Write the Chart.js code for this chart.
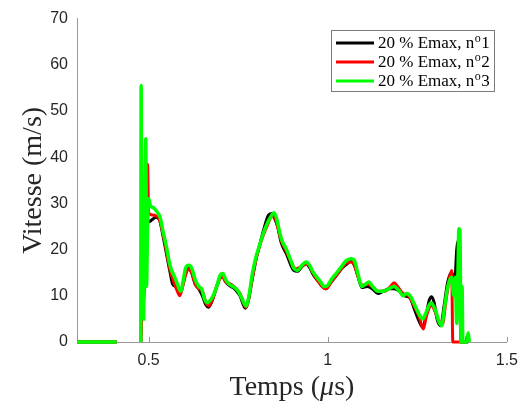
<!DOCTYPE html>
<html>
<head>
<meta charset="utf-8">
<script src="https://cdn.jsdelivr.net/npm/chart.js@4/dist/chart.umd.min.js"></script>
<style>
  body { margin: 0; background: #fff; }
  canvas { display: block; }
</style>
</head>
<body>
<canvas id="VitesseChart" width="527" height="406"></canvas>
<script>
// velocity traces, three shots at 20 % Emax (time in µs, velocity in m/s)
const t1 = [0.30, 0.411, 0.412, 0.477, 0.478, 0.482, 0.486, 0.490, 0.495, 0.500, 0.510, 0.520, 0.530, 0.540, 0.550, 0.560, 0.567, 0.575, 0.582, 0.590, 0.600, 0.610, 0.620, 0.630, 0.640, 0.650, 0.660, 0.667, 0.675, 0.690, 0.700, 0.706, 0.715, 0.730, 0.740, 0.755, 0.770, 0.780, 0.790, 0.800, 0.810, 0.820, 0.835, 0.845, 0.850, 0.860, 0.870, 0.885, 0.895, 0.905, 0.915, 0.930, 0.940, 0.950, 0.960, 0.975, 0.985, 0.995, 1.000, 1.020, 1.040, 1.055, 1.065, 1.075, 1.085, 1.095, 1.110, 1.125, 1.140, 1.155, 1.170, 1.185, 1.200, 1.215, 1.230, 1.240, 1.255, 1.265, 1.275, 1.283, 1.290, 1.297, 1.305, 1.315, 1.325, 1.335, 1.345, 1.355, 1.360, 1.364, 1.368, 1.372, 1.385, 1.392];
const v1 = [0, 0, null, null, 0, 10, 12, 20, 26, 26, 26.5, 27, 26.5, 23, 19, 15, 12.5, 12, 11.5, 11, 14, 16, 15, 12.5, 11.5, 10, 8, 7.5, 8.5, 12, 14, 14.3, 13, 12, 11.5, 10, 7.3, 9.5, 14, 18, 21, 24, 27.5, 27.8, 27, 25, 21.5, 19, 17, 15.5, 15.3, 16.5, 17, 16, 14.5, 13, 12, 11.5, 12, 14, 16, 17, 17.5, 16.5, 14, 11.8, 12, 11.5, 10.5, 11, 11.5, 11.5, 11, 10, 9.5, 7.5, 4.5, 3.2, 6, 9, 9.8, 8.5, 5, 3.5, 8, 13, 15, 14, 20, 22, 12, 0, 0, 0];

const t2 = [0.30, 0.411, 0.412, 0.477, 0.478, 0.480, 0.485, 0.490, 0.494, 0.497, 0.500, 0.510, 0.520, 0.530, 0.540, 0.550, 0.560, 0.570, 0.580, 0.587, 0.595, 0.605, 0.612, 0.620, 0.630, 0.640, 0.650, 0.660, 0.668, 0.680, 0.690, 0.700, 0.707, 0.715, 0.730, 0.745, 0.755, 0.772, 0.785, 0.800, 0.815, 0.830, 0.845, 0.852, 0.860, 0.870, 0.885, 0.900, 0.910, 0.930, 0.945, 0.955, 0.970, 0.985, 0.995, 1.010, 1.030, 1.050, 1.065, 1.075, 1.085, 1.095, 1.110, 1.125, 1.140, 1.160, 1.175, 1.185, 1.195, 1.210, 1.225, 1.240, 1.255, 1.267, 1.275, 1.290, 1.300, 1.310, 1.320, 1.330, 1.340, 1.346, 1.349, 1.385, 1.390, 1.393];
const v2 = [0, 0, null, null, 0, 4, 8, 15, 30, 38.5, 28, 27.5, 27.3, 26.5, 23.5, 19.5, 15.5, 13, 11, 10, 12, 15, 15.8, 15, 12.5, 11.5, 11, 8.5, 7.8, 9.5, 12, 13.8, 14, 13, 12.5, 11.5, 10.5, 7.5, 12, 18, 22, 25, 27.2, 27, 25, 22, 19.5, 17, 15.8, 16.5, 17, 15.5, 13.5, 12, 11.5, 13, 15, 17, 17.3, 16.5, 14, 12.3, 12.5, 12, 11, 11, 12, 12.8, 12, 10.5, 10, 8, 5.5, 2.8, 5.5, 8, 6.5, 4.5, 3.8, 9, 14, 15.5, 0, 0, 1.5, 0];

const t3 = [0.30, 0.411, 0.412, 0.477, 0.478, 0.479, 0.481, 0.484, 0.486, 0.489, 0.492, 0.494, 0.497, 0.500, 0.505, 0.515, 0.525, 0.532, 0.540, 0.550, 0.557, 0.564, 0.570, 0.578, 0.585, 0.590, 0.597, 0.603, 0.612, 0.620, 0.630, 0.640, 0.648, 0.655, 0.663, 0.672, 0.680, 0.690, 0.700, 0.707, 0.715, 0.725, 0.740, 0.750, 0.760, 0.772, 0.780, 0.790, 0.800, 0.810, 0.820, 0.830, 0.840, 0.850, 0.858, 0.865, 0.872, 0.885, 0.895, 0.905, 0.915, 0.930, 0.940, 0.950, 0.960, 0.970, 0.980, 0.990, 1.000, 1.010, 1.025, 1.040, 1.050, 1.065, 1.075, 1.085, 1.095, 1.105, 1.115, 1.125, 1.140, 1.155, 1.170, 1.185, 1.200, 1.210, 1.220, 1.230, 1.240, 1.255, 1.265, 1.275, 1.288, 1.300, 1.310, 1.318, 1.325, 1.335, 1.345, 1.352, 1.356, 1.360, 1.363, 1.366, 1.369, 1.372, 1.375, 1.377, 1.388, 1.392, 1.395];
const v3 = [0, 0, null, null, 0, 55.5, 12, 20, 5, 30, 44, 12, 25, 31, 29.5, 29, 28, 27, 24, 20.5, 17.5, 15.5, 14.5, 13, 11.5, 11, 13.5, 16, 16.6, 16, 13.5, 12, 11.5, 9.5, 8.5, 9, 10, 12, 14.5, 14.8, 13.5, 12.5, 11.8, 11, 9.5, 7.8, 10, 15, 18.5, 21, 23.5, 25.5, 27, 28, 26.5, 24, 22, 20, 18, 16, 15.5, 16.8, 17.3, 16.5, 15, 14, 13, 12, 12.3, 13.5, 15, 16.5, 17.5, 18, 17.5, 14.5, 12, 12.5, 13, 12, 11, 11, 11.5, 12, 11, 10, 10.5, 10, 8.5, 6, 5, 6.5, 8.5, 7, 4.5, 3.5, 7, 12, 14, 10, 14, 4, 13, 24.5, 24, 0, 12, 0, 0, 2, 0];

const seriesLabels = ['20 % Emax, n', '20 % Emax, n', '20 % Emax, n'];
const seriesNums = ['1', '2', '3'];
const seriesColors = ['#000000', '#ff0000', '#00ff00'];
const seriesWidths = [3, 3, 3.5];

const xTicks = [0.5, 1, 1.5];
const yMin = 0, yMax = 70, yStep = 10;

function toPoints(t, v) {
  return t.map((x, i) => ({ x: x, y: v[i] }));
}

const traces = [[t1, v1], [t2, v2], [t3, v3]];

const tickFont = { family: '"Liberation Sans", Arial, sans-serif', size: 16 };
const serif = '"Liberation Serif", "Times New Roman", serif';

// inward tick marks on the bottom axis, plus the two axis titles and the legend box
const decorPlugin = {
  id: 'decor',
  afterDraw(chart) {
    const c = chart.ctx;
    const xs = chart.scales.x;
    const area = chart.chartArea;
    c.save();
    c.strokeStyle = '#999';
    c.lineWidth = 1;
    xTicks.forEach(v => {
      const px = Math.round(xs.getPixelForValue(v)) + 0.5;
      c.beginPath();
      c.moveTo(px, area.bottom);
      c.lineTo(px, area.bottom - 5);
      c.stroke();
    });

    // x title, with italic mu
    c.fillStyle = '#262626';
    c.textBaseline = 'alphabetic';
    const fs = 28;
    const parts = [['Temps (', 'normal'], ['\u03bc', 'italic'], ['s)', 'normal']];
    let w = 0;
    parts.forEach(p => { c.font = p[1] + ' ' + fs + 'px ' + serif; w += c.measureText(p[0]).width; });
    let x = (area.left + area.right) / 2 - w / 2;
    parts.forEach(p => {
      c.font = p[1] + ' ' + fs + 'px ' + serif;
      c.fillText(p[0], x, 395);
      x += c.measureText(p[0]).width;
    });

    // y title
    c.save();
    c.translate(41, (area.top + area.bottom) / 2);
    c.rotate(-Math.PI / 2);
    c.font = fs + 'px ' + serif;
    c.textAlign = 'center';
    c.fillText('Vitesse (m/s)', 0, 0);
    c.restore();

    // legend
    const bx = 331.5, by = 30.5, bw = 163, bh = 61;
    c.fillStyle = '#fff';
    c.fillRect(bx, by, bw, bh);
    c.strokeStyle = '#7a7a7a';
    c.lineWidth = 1;
    c.strokeRect(bx, by, bw, bh);
    const lf = 17;
    chart.data.datasets.forEach((ds, i) => {
      const ly = 43 + i * 19;
      c.strokeStyle = ds.borderColor;
      c.lineWidth = 3;
      c.beginPath();
      c.moveTo(336, ly);
      c.lineTo(374, ly);
      c.stroke();
      c.fillStyle = '#000';
      c.textAlign = 'left';
      c.textBaseline = 'middle';
      c.font = lf + 'px ' + serif;
      let tx = 378;
      c.fillText(seriesLabels[i], tx, ly + 1);
      tx += c.measureText(seriesLabels[i]).width;
      c.font = Math.round(lf * 0.7) + 'px ' + serif;
      c.fillText('o', tx + 0.5, ly - 4);
      tx += c.measureText('o').width + 1;
      c.font = lf + 'px ' + serif;
      c.fillText(seriesNums[i], tx, ly + 1);
    });
    c.restore();
  }
};

new Chart(document.getElementById('VitesseChart'), {
  type: 'line',
  data: {
    datasets: traces.map((tr, i) => ({
      label: seriesLabels[i] + seriesNums[i],
      data: toPoints(tr[0], tr[1]),
      borderColor: seriesColors[i],
      backgroundColor: seriesColors[i],
      borderWidth: seriesWidths[i],
      pointRadius: 0,
      cubicInterpolationMode: 'monotone',
      spanGaps: false,
      clip: 4,
      order: 2 - i
    }))
  },
  options: {
    responsive: false,
    devicePixelRatio: 1,
    animation: false,
    layout: { padding: { top: 18, right: 18, left: 0, bottom: 0 } },
    plugins: { legend: { display: false }, tooltip: { enabled: false } },
    scales: {
      x: {
        type: 'linear',
        min: 0.3,
        max: 1.5,
        afterBuildTicks: s => { s.ticks = xTicks.map(v => ({ value: v })); },
        afterFit: s => { s.height = 64; },
        grid: { display: false, drawTicks: false },
        border: { display: true, color: '#999', width: 1 },
        ticks: { font: tickFont, color: '#262626', padding: 9, maxRotation: 0, callback: v => String(v) }
      },
      y: {
        min: yMin,
        max: yMax,
        afterFit: s => { s.width = 77; },
        grid: { display: false, drawTicks: false },
        border: { display: true, color: '#999', width: 1 },
        ticks: { stepSize: yStep, font: tickFont, color: '#262626', padding: 9 }
      }
    }
  },
  plugins: [decorPlugin]
});
</script>
</body>
</html>
